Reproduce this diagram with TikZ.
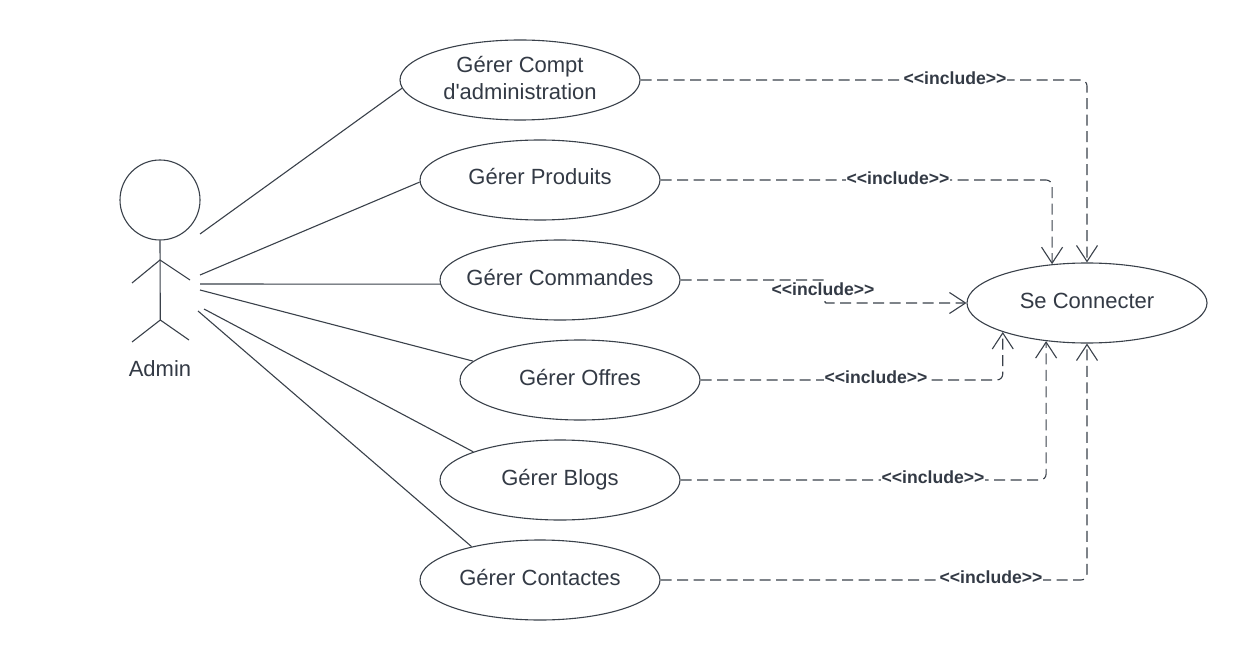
\documentclass[tikz,border=0pt]{standalone}
\usepackage{fontspec}
\setmainfont{Liberation Sans}[Ligatures=TeXOff]
\usetikzlibrary{shapes.geometric,arrows.meta}
\definecolor{ink}{HTML}{3A414A}
\definecolor{txt}{HTML}{333A45}
\tikzset{
  usecase/.style={draw=ink,line width=1.1pt,ellipse,minimum width=240pt,minimum height=80pt,inner sep=0pt,fill=white,text=txt,align=center,text height=16pt,text depth=6pt,font=\fontsize{22}{27}\selectfont},
  actorline/.style={draw=ink,line width=1.1pt},
  assoc/.style={draw=ink,line width=1.1pt},
  incl/.style={draw=ink,line width=1.1pt,dash pattern=on 11pt off 5.5pt,rounded corners=6pt,-{Straight Barb[length=16pt,width=21pt,line width=1.1pt]}},
  incllabel/.style={fill=white,inner sep=0.5pt,text=txt,font=\fontsize{17.6}{20}\selectfont\bfseries},
}
\begin{document}
\begin{tikzpicture}[x=1pt,y=-1pt]
\useasboundingbox[fill=white] (0,0) rectangle (1246,660);
% actor
\node[draw=ink,line width=1.1pt,circle,minimum size=80pt,inner sep=0pt] (head) at (160,200) {};
\coordinate (neck) at (160,260);
\coordinate (hip) at (160.3,320);
\coordinate (handl) at (132,283);
\coordinate (handr) at (190,280);
\coordinate (footl) at (132,342);
\coordinate (footr) at (189,340);
\draw[actorline] (head.south) -- (hip);
\draw[actorline] (handl) -- (neck) -- (handr);
\draw[actorline] (footl) -- (hip) -- (footr);
\node[text=txt,font=\fontsize{22}{27}\selectfont] (admin) at (160,369) {Admin};
% use cases
\node[usecase,text height=45pt,text depth=5pt] (c1) at (520,80) {Gérer Compt\\d'administration};
\node[usecase] (c2) at (540,180) {Gérer Produits};
\node[usecase] (c3) at (560,280) {\makebox[0pt][c]{Gérer Commandes}};
\node[usecase] (c4) at (580,380) {Gérer Offres};
\node[usecase] (c5) at (560,480) {Gérer Blogs};
\node[usecase] (c6) at (540,580) {Gérer Contactes};
\node[usecase] (sc) at (1087,303) {Se Connecter};
% associations
\coordinate (a1) at (200,234);
\coordinate (a2) at (200,275);
\coordinate (a3) at (200,284);
\coordinate (a4) at (200,290);
\coordinate (a5) at (204,309);
\coordinate (a6) at (198,311);
\draw[assoc] (a1) -- (c1.184);
\draw[assoc] (a2) -- (c2.181);
\draw[assoc] (a3) -- (c3.182);
\draw[assoc] (a4) -- (c4.170);
\draw[assoc] (a5) -- (c5.162);
\draw[assoc] (a6) -- (c6.154);
% includes
\coordinate (m) at (825,280);
\draw[incl] (c1.east) -| (sc.north);
\draw[incl] (c2.east) -| (sc.132.4);
\draw[incl,rounded corners=1pt] (c3.east) -- (m) |- (sc.west);
\draw[incl] (c4.east) -| (sc.199.6);
\draw[incl] (c5.east) -| (sc.223.3);
\draw[incl] (c6.east) -| (sc.south);
% labels
\node[incllabel] (l1) at (955,78) {<<include>>};
\node[incllabel] (l2) at (898,178) {<<include>>};
\node[incllabel] (l3) at (823,289) {<<include>>};
\node[incllabel] (l4) at (876,377) {<<include>>};
\node[incllabel] (l5) at (933,477) {<<include>>};
\node[incllabel] (l6) at (991,577) {<<include>>};
\end{tikzpicture}
\end{document}
